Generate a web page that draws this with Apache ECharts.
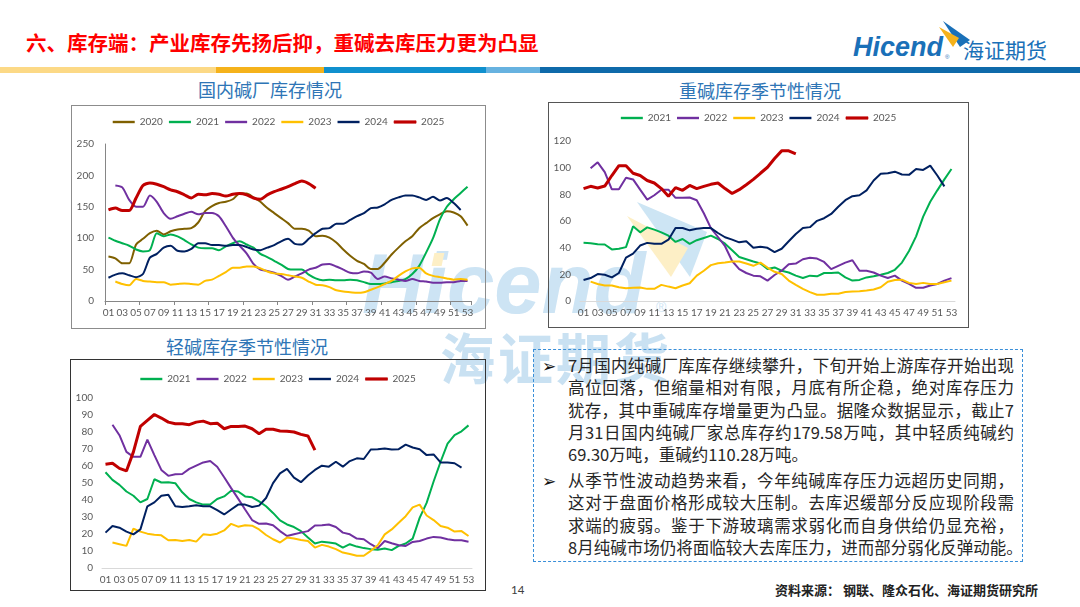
<!DOCTYPE html>
<html>
<head>
<meta charset="utf-8">
<title>库存端</title>
<script src="https://cdn.jsdelivr.net/npm/echarts@6/dist/echarts.min.js"></script>
<style>
  html, body { margin: 0; padding: 0; }
  body {
    width: 1080px; height: 607px; position: relative; overflow: hidden;
    background: #fff; font-family: "Noto Sans CJK SC", sans-serif;
  }
  .abs { position: absolute; }
  .wm { color: #cde4f4; z-index: 0; white-space: nowrap; }
  .box { position: absolute; box-sizing: border-box; z-index: 1; }
  .box > div { width: 100%; height: 100%; }
  .ctitle { position: absolute; width: 240px; text-align: center; font-size: 18px;
            line-height: 22px; color: #2e75b6; z-index: 2; }
  .bar { position: absolute; top: 67px; height: 6px; }
  .txt { position: absolute; left: 568px; width: 446px; font-size: 16.5px; color: #262626;
         z-index: 2; }
  .txt div { height: 22.3px; line-height: 22.3px; white-space: nowrap;
             text-align: justify; text-align-last: justify; }
  .txt div.last { text-align: left; text-align-last: left; }
  .bullet { position: absolute; left: 542px; font-size: 17px; line-height: 20px; color: #111; z-index: 2; }
</style>
</head>
<body>

<!-- watermark -->
<div class="abs wm" style="left:362px; top:241px; font:italic bold 85px/85px 'Liberation Sans', Arial, sans-serif;">Hicend</div>
<div class="abs" style="left:433px; top:253px; width:10px; height:13px; background:#fdefc6; transform:skewX(-12deg); z-index:0;"></div>
<div class="abs wm" style="left:656px; top:300px; font:14px/14px 'Liberation Sans', sans-serif;">®</div>
<div class="abs wm" style="left:440px; top:328px; font-size:55px; line-height:55px; font-weight:700; letter-spacing:3px; color:#c9e1f2;">海证期货</div>
<svg class="abs" style="left:0; top:0; z-index:0;" width="1080" height="607">
  <polygon points="637,202 707,232 690,277" fill="#cde5f4"/>
  <polygon points="627,216 688,248 671,277" fill="#fdefc6"/>
</svg>

<!-- header -->
<div class="abs" style="left:26px; top:30px; font-size:20.5px; line-height:24px; font-weight:700; color:#ff0000; z-index:2;">六、库存端：产业库存先扬后抑，重碱去库压力更为凸显</div>
<div class="abs" style="left:853px; top:34px; font:italic bold 27px/27px 'Liberation Sans', Arial, sans-serif; color:#1a70b8;">Hicend</div>
<div class="abs" style="left:945px; top:54px; font:6px/6px 'Liberation Sans', sans-serif; color:#1a70b8;">®</div>
<svg class="abs" style="left:0; top:0;" width="1080" height="80">
  <polygon points="943,21 970,40 960,47" fill="#1a70b8"/>
  <polygon points="939,27 959,38 953,47" fill="#f5b21b"/>
</svg>
<div class="abs" style="left:963px; top:39px; font-size:21px; line-height:21px; color:#1a70b8;">海证期货</div>
<div class="bar" style="left:0; width:216px; background:#fcd986;"></div>
<div class="bar" style="left:216px; width:108px; background:#f5b21b;"></div>
<div class="bar" style="left:324px; width:162px; background:#1090ce;"></div>
<div class="bar" style="left:486px; width:54px; background:#67b2e0;"></div>
<div class="bar" style="left:540px; width:540px; background:#0e6aaa;"></div>

<!-- chart titles -->
<div class="ctitle" style="left:150px; top:78px;">国内碱厂库存情况</div>
<div class="ctitle" style="left:640px; top:79px;">重碱库存季节性情况</div>
<div class="ctitle" style="left:127px; top:335px;">轻碱库存季节性情况</div>

<!-- charts -->
<div class="box" style="left:71px; top:105px; width:415px; height:224px; border:1px solid #8c8c8c;"><div id="plantChart"></div></div>
<div class="box" style="left:548px; top:102px; width:421px; height:226px; border:1.5px solid #555;"><div id="denseChart"></div></div>
<div class="box" style="left:70px; top:359px; width:416px; height:232px; border:1px solid #333;"><div id="lightChart"></div></div>

<!-- comment box -->
<div class="abs" style="left:533px; top:349px; width:488px; height:211px; border:1.5px dashed #3a8fd9; z-index:2;"></div>
<div class="bullet" style="top:355px;">➢</div>
<div class="txt" style="top:354px;">
  <div>7月国内纯碱厂库库存继续攀升，下旬开始上游库存开始出现</div>
  <div>高位回落，但缩量相对有限，月底有所企稳，绝对库存压力</div>
  <div>犹存，其中重碱库存增量更为凸显。据隆众数据显示，截止7</div>
  <div>月31日国内纯碱厂家总库存约179.58万吨，其中轻质纯碱约</div>
  <div class="last">69.30万吨，重碱约110.28万吨。</div>
</div>
<div class="bullet" style="top:470px;">➢</div>
<div class="txt" style="top:469px;">
  <div>从季节性波动趋势来看，今年纯碱库存压力远超历史同期，</div>
  <div>这对于盘面价格形成较大压制。去库迟缓部分反应现阶段需</div>
  <div>求端的疲弱。鉴于下游玻璃需求弱化而自身供给仍显充裕，</div>
  <div class="last">8月纯碱市场仍将面临较大去库压力，进而部分弱化反弹动能。</div>
</div>

<!-- footer -->
<div class="abs" style="left:511px; top:582px; font:11.5px/16px Lato, sans-serif; color:#404040;">14</div>
<div class="abs" style="left:775px; top:581px; font-size:13px; line-height:17px; font-weight:700; color:#222; white-space:nowrap;">资料来源：&nbsp;钢联、隆众石化、海证期货研究所</div>

<script>
// week labels on the category axis
const weeks = ['01','02','03','04','05','06','07','08','09','10','11','12','13','14','15','16','17','18','19','20',
  '21','22','23','24','25','26','27','28','29','30','31','32','33','34','35','36','37','38','39','40',
  '41','42','43','44','45','46','47','48','49','50','51','52','53'];

// 国内碱厂库存 (万吨)
const plant2020 = [71,68,60,60,90,99,108,112,106,111,114,115,116,125,143,151,156,158,162,171,171,165,158,148,140,
  132,124,115,115,112,103,104,101,93,82,72,64,59,51,51,61,74,85,95,103,116,124,132,138,143,141,135,120];
const plant2021 = [101,96,92,88,82,79,81,108,103,106,103,97,90,85,84,84,81,87,92,95,90,85,75,70,64,
  58,51,50,50,42,36,33,34,33,33,34,33,30,27,27,28,30,32,35,43,56,77,100,130,150,162,172,182];
const plant2022 = [null,184,181,161,150,150,168,158,140,131,135,139,142,138,140,140,135,119,101,88,76,59,50,48,45,
  40,34,39,44,50,53,58,59,55,50,45,44,47,45,35,39,36,34,32,35,32,31,29,29,30,30,32,32];
const plant2023 = [null,31,27,25,35,32,31,30,30,26,27,28,27,26,32,34,40,46,53,53,55,55,52,47,44,
  43,41,39,37,31,26,25,22,17,15,14,13,14,18,22,27,32,40,47,52,53,44,40,38,36,34,35,34];
const plant2024 = [37,42,44,41,38,43,69,75,85,88,80,79,83,92,92,89,89,88,89,89,86,82,81,85,89,
  95,99,91,90,99,108,115,116,123,123,129,135,140,148,149,154,161,165,168,168,165,161,166,160,164,156,145,null];
const plant2025 = [145,148,144,144,164,184,188,186,182,177,174,169,164,170,169,171,170,167,170,171,169,164,162,169,174,
  178,182,187,191,187,179.58];

// 重碱库存 (万吨)
const dense2021 = [43.6,43.3,42.6,42.4,38.7,39.2,40.4,56,51.5,55.2,53.5,51.5,49,44.3,46.5,42.9,45.6,47.3,49,46.5,
  43,38,33,31.3,29.6,28.1,24,25.2,22.7,21.4,19,17.2,19,18.5,21,21,21.4,17.7,15.3,15.8,
  17.7,18.5,19.7,21,23.4,28.8,37.5,48.5,63.3,74.4,83,91.2,99];
const dense2022 = [null,99.5,104,96.6,83.8,83.8,92.4,91.2,83.5,76,79.3,83.5,83.5,77.4,77.4,77.6,75.6,65.8,54.7,48,
  41.1,30,23.9,21,19,18.5,15.3,19.5,22.7,27.6,28.1,31.3,32.5,31.8,29.3,23.9,26.4,28.8,30.6,22.7,
  22.7,21.4,19,17.2,19,15.3,12.8,9.9,9.9,11.6,12.8,15.3,17.2];
const dense2023 = [null,14.5,12.8,11.6,11.6,10.3,9.6,9.9,10.1,9.1,9.1,12.1,10.8,9.6,11.6,13.3,19,22.7,26.9,28.3,
  28.8,29.6,29.6,28.1,26.4,28.8,25.1,21.9,20.2,15.3,12.1,9.1,6.7,4.7,4.7,5.4,5.4,6.7,7.1,7.4,
  7.9,8.6,10.3,14.5,15.8,16,13.6,12.8,13.6,12.8,12.8,14,15.3];
const dense2024 = [15.8,17.2,20.2,19.7,17.7,21,32.5,35.5,41.6,43.6,42.9,42.9,46,54.7,54.7,53,54.2,54.7,54.7,51,
  47.8,46,44,44.8,39.9,40.7,39.9,36.7,39.2,44.8,50.3,54.7,55.4,60.1,62.1,65.3,70.7,75.6,78.6,79.3,
  83,90.4,95.4,95.8,97,94.9,94.6,99,98.3,101.5,94.1,86,null];
const dense2025 = [84.3,86,84.8,86.2,94.1,101.5,101.5,95.8,94.1,90.4,88.5,84.3,78.6,85,83,86.7,84.3,86,87.5,88.5,
  84.3,80.6,83.5,87.2,91.2,95.8,100.3,106.9,112.6,112.6,110.28];

// 轻碱库存 (万吨)
const light2021 = [56.3,51.8,48.9,45,42.5,38.6,40.6,52.2,50.3,50.5,49.9,44.5,40.6,38.6,37.3,37.3,40.6,42.1,45.4,45,
  42.1,41.6,39.2,36.3,32.4,28,25.6,24.1,21.7,17.9,14.4,15.5,15,14.4,12,14,12.6,11.7,11.1,10.7,
  11.5,10.5,13,14.4,17.3,29.5,38.3,50.9,62.5,73.2,78.1,80.4,83.9];
const light2022 = [null,84.3,78.1,68.3,65.4,65.4,75.5,66.4,57.7,54.2,55.1,55.3,58.3,60.2,62.1,62.9,59.6,53.4,47,40.8,
  34.4,28.2,26,26.2,25.2,21.7,18.8,19.8,20.8,21.7,25,25.2,25.6,24.1,20.8,19.8,17.3,16.9,14,11.7,
  15.9,14.6,13.4,13,15.3,15.9,17.3,18.3,17.9,16.9,16.3,16.3,15.5];
const light2023 = [null,15,14,13,23.1,21.4,20.2,19.6,19.2,16.3,16.5,15.9,16.5,15.5,19.8,19.4,20.2,22.1,26,24.3,
  25.2,24.9,22.7,19.4,16.9,15,17.9,17.3,16.5,15.9,12,13.6,12.6,11.1,9.1,8.2,7.2,7.2,10.1,13.4,
  19.8,22.7,26.6,30.5,35.7,37.3,30.9,28.2,24.7,23.7,21.4,21.7,18.8];
const light2024 = [20.8,24.7,23.7,21.4,19.8,22.7,36.3,38.6,42.5,43.1,36.3,35.9,36.3,36.9,36.3,36.3,34,31.5,34.4,37.3,
  37.3,35.9,36.7,41.2,49.9,55.7,58.3,53.2,50.5,54.4,57.7,60.2,59.6,62.5,59.6,62.9,64.5,64.1,69.7,69.9,
  70.3,69.7,69.9,72.6,70.9,69.9,66.4,66.8,62.1,62.1,61.6,59,null];
const light2025 = [61,61.6,58.6,57.1,68.3,83.3,86.8,90.3,88.2,85.8,84.9,84.9,84.3,85.8,86.4,84.9,85.2,81.9,83.3,83.3,
  83.5,81.9,79,81.6,81.6,80.6,80.4,80,78.6,77.7,69.3];

const yearColors = {
  '2020': '#7f6000', '2021': '#00b050', '2022': '#7030a0',
  '2023': '#ffc000', '2024': '#002060', '2025': '#c00000'
};
const labelColor = '#595959';
const numFont = 'Lato, "Liberation Sans", sans-serif';

function makeSeries(lines, smooth) {
  return lines.map(([name, data]) => ({
    name: name,
    type: 'line',
    data: data,
    symbol: 'none',
    smooth: smooth,
    connectNulls: false,
    z: name === '2025' ? 3 : 2,
    lineStyle: { width: name === '2025' ? 3 : 2, color: yearColors[name] },
    itemStyle: { color: yearColors[name] }
  }));
}

// legend keys are flat bars; 2025 gets a border so it reads thicker like its line
function legendItems(lines) {
  return lines.map(([name]) => name === '2025'
    ? { name: name, itemStyle: { borderWidth: 0.7, borderColor: yearColors[name] } }
    : { name: name });
}

function draw(id, cfg) {
  let chart = echarts.init(document.getElementById(id));
  let option = {
    animation: false,
    textStyle: { fontFamily: numFont },
    legend: {
      top: cfg.legendTop,
      left: 'center',
      icon: 'rect',
      itemWidth: 22,
      itemHeight: 2.4,
      itemGap: 6,
      data: legendItems(cfg.lines),
      textStyle: { color: labelColor, fontSize: 10, fontFamily: numFont }
    },
    grid: cfg.grid,
    xAxis: {
      type: 'category',
      data: weeks,
      boundaryGap: true,
      axisLine: { lineStyle: { color: cfg.xLine, width: 1 } },
      axisTick: cfg.ticks
        ? { show: true, interval: 4, length: 4, lineStyle: { color: cfg.xLine } }
        : { show: false },
      axisLabel: { interval: 1, color: labelColor, fontSize: 10, margin: 7, fontFamily: numFont }
    },
    yAxis: {
      type: 'value',
      min: 0,
      max: cfg.yMax,
      interval: cfg.yStep,
      axisLine: { show: cfg.yLine, lineStyle: { color: '#868686' } },
      axisTick: { show: false },
      splitLine: { show: false },
      axisLabel: { color: labelColor, fontSize: 10, margin: cfg.yMargin, fontFamily: numFont }
    },
    series: makeSeries(cfg.lines, cfg.smooth)
  };
  chart.setOption(option, true);
}

draw('plantChart', {
  legendTop: 6,
  grid: { left: 33, right: 14, top: 38, bottom: 27 },
  xLine: '#868686', ticks: true, yLine: true, yMargin: 11,
  yMax: 250, yStep: 50, smooth: 0.25,
  lines: [['2020', plant2020], ['2021', plant2021], ['2022', plant2022],
          ['2023', plant2023], ['2024', plant2024], ['2025', plant2025]]
});

draw('denseChart', {
  legendTop: 5,
  grid: { left: 31, right: 13, top: 38, bottom: 26 },
  xLine: '#d9d9d9', ticks: false, yLine: false, yMargin: 9,
  yMax: 120, yStep: 20, smooth: false,
  lines: [['2021', dense2021], ['2022', dense2022], ['2023', dense2023],
          ['2024', dense2024], ['2025', dense2025]]
});

draw('lightChart', {
  legendTop: 9,
  grid: { left: 31, right: 13, top: 38, bottom: 22 },
  xLine: '#d9d9d9', ticks: false, yLine: false, yMargin: 9,
  yMax: 100, yStep: 10, smooth: false,
  lines: [['2021', light2021], ['2022', light2022], ['2023', light2023],
          ['2024', light2024], ['2025', light2025]]
});
</script>
</body>
</html>
